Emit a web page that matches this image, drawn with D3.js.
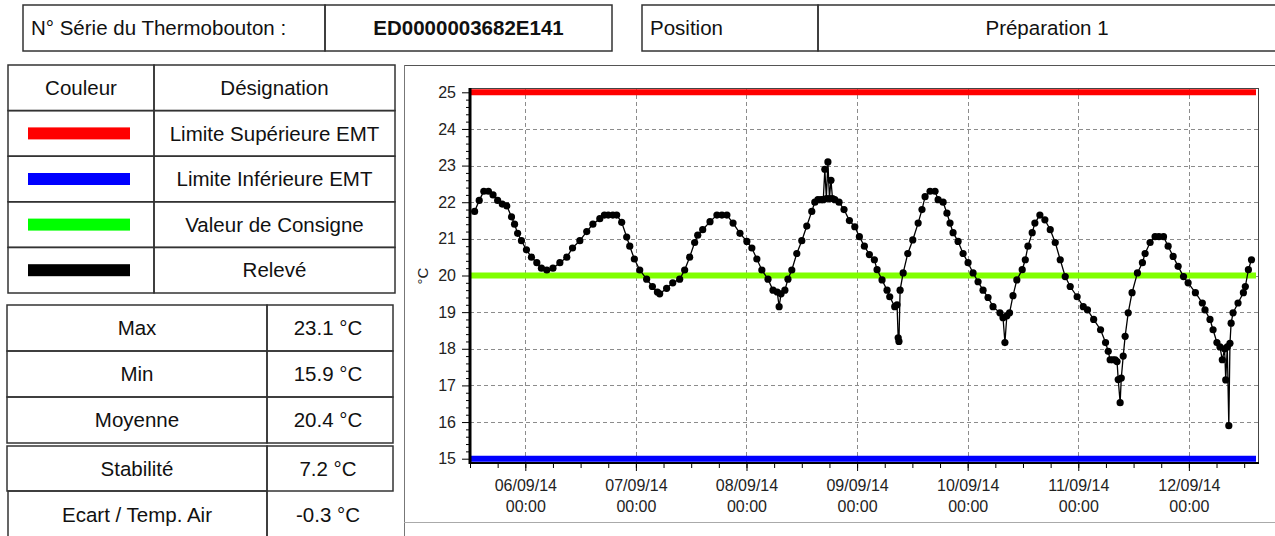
<!DOCTYPE html>
<meta charset="utf-8">
<style>
body { margin: 0; background: #fff; }
svg { font-family: Arial, "Liberation Sans", sans-serif; }
.cell { fill: none; stroke: #333; stroke-width: 1.5; }
.tbl text { font-size: 20.5px; fill: #111; }
.grid line { stroke: #8c8c8c; stroke-width: 1; stroke-dasharray: 4,3; shape-rendering: crispEdges; }
.axis text { font-size: 16px; fill: #222; }
.axis line { stroke: #000; }
.axis path { display: none; }
</style>
<body>
<script src="https://cdn.jsdelivr.net/npm/d3@7"></script>
<script>
// header / tables
var serialLabel = "N° Série du Thermobouton :",
    serialValue = "ED0000003682E141",
    positionLabel = "Position",
    positionValue = "Préparation 1";

var legendHead = ["Couleur", "Désignation"];
var legendColors = ["#ff0000", "#0000ff", "#00ff00", "#000000"];
var legendLabels = ["Limite Supérieure EMT", "Limite Inférieure EMT", "Valeur de Consigne", "Relevé"];

var statLabels = ["Max", "Min", "Moyenne", "Stabilité", "Ecart / Temp. Air"];
var statValues = ["23.1 °C", "15.9 °C", "20.4 °C", "7.2 °C", "-0.3 °C"];

// chart values
var upperLimit = 25, lowerLimit = 15, setPoint = 20;
var yTicks = [15, 16, 17, 18, 19, 20, 21, 22, 23, 24, 25];
var timeStart = "05/09/14 12:00", timeEnd = "12/09/14 15:00";

var releve = [
  ["05/09/14 13:00", 21.75], ["05/09/14 14:00", 22.05], ["05/09/14 15:00", 22.3], ["05/09/14 16:00", 22.3],
  ["05/09/14 17:00", 22.2], ["05/09/14 18:00", 22.05], ["05/09/14 19:00", 21.95], ["05/09/14 20:00", 21.9],
  ["05/09/14 21:00", 21.6], ["05/09/14 21:40", 21.4], ["05/09/14 22:20", 21.15], ["05/09/14 23:10", 20.95],
  ["06/09/14 00:15", 20.7], ["06/09/14 01:20", 20.5], ["06/09/14 02:30", 20.35], ["06/09/14 03:30", 20.2],
  ["06/09/14 04:40", 20.15], ["06/09/14 06:00", 20.2], ["06/09/14 07:30", 20.35], ["06/09/14 09:00", 20.5],
  ["06/09/14 10:15", 20.75], ["06/09/14 11:50", 20.95], ["06/09/14 13:20", 21.2], ["06/09/14 14:40", 21.4],
  ["06/09/14 16:10", 21.55], ["06/09/14 17:10", 21.65], ["06/09/14 18:00", 21.65], ["06/09/14 19:00", 21.65],
  ["06/09/14 19:50", 21.65], ["06/09/14 20:55", 21.45], ["06/09/14 22:00", 21.05], ["06/09/14 22:40", 20.8],
  ["06/09/14 23:40", 20.45], ["07/09/14 00:50", 20.15], ["07/09/14 02:20", 19.9], ["07/09/14 03:35", 19.7],
  ["07/09/14 04:40", 19.55], ["07/09/14 05:10", 19.5], ["07/09/14 06:40", 19.65], ["07/09/14 08:00", 19.8],
  ["07/09/14 09:30", 19.9], ["07/09/14 10:35", 20.15], ["07/09/14 11:40", 20.5], ["07/09/14 12:45", 20.9],
  ["07/09/14 13:25", 21.1], ["07/09/14 14:30", 21.25], ["07/09/14 16:05", 21.47], ["07/09/14 17:35", 21.65],
  ["07/09/14 18:40", 21.65], ["07/09/14 19:45", 21.65], ["07/09/14 21:05", 21.43], ["07/09/14 22:35", 21.15],
  ["08/09/14 00:05", 20.93], ["08/09/14 01:10", 20.75], ["08/09/14 02:15", 20.45], ["08/09/14 03:20", 20.15],
  ["08/09/14 04:40", 19.9], ["08/09/14 05:45", 19.6], ["08/09/14 06:40", 19.55], ["08/09/14 07:05", 19.15],
  ["08/09/14 07:30", 19.5], ["08/09/14 08:20", 19.6], ["08/09/14 09:00", 19.9], ["08/09/14 09:50", 20.15],
  ["08/09/14 10:55", 20.6], ["08/09/14 12:00", 20.95], ["08/09/14 13:05", 21.35], ["08/09/14 14:10", 21.75],
  ["08/09/14 14:50", 22.0], ["08/09/14 15:30", 22.07], ["08/09/14 16:10", 22.07], ["08/09/14 16:40", 22.07],
  ["08/09/14 17:00", 22.9], ["08/09/14 17:20", 22.1], ["08/09/14 17:40", 23.1], ["08/09/14 18:00", 22.1],
  ["08/09/14 18:20", 22.6], ["08/09/14 18:40", 22.1], ["08/09/14 19:10", 22.07], ["08/09/14 20:05", 22.0],
  ["08/09/14 21:10", 21.8], ["08/09/14 22:20", 21.5], ["08/09/14 23:30", 21.33], ["09/09/14 00:30", 21.06],
  ["09/09/14 01:35", 20.8], ["09/09/14 02:40", 20.57], ["09/09/14 03:45", 20.43], ["09/09/14 04:20", 20.16],
  ["09/09/14 05:25", 19.88], ["09/09/14 06:30", 19.6], ["09/09/14 07:05", 19.42], ["09/09/14 08:10", 19.15],
  ["09/09/14 08:40", 19.2], ["09/09/14 08:55", 18.3], ["09/09/14 09:05", 18.2], ["09/09/14 09:20", 19.6],
  ["09/09/14 10:00", 20.07], ["09/09/14 11:00", 20.6], ["09/09/14 12:05", 20.97], ["09/09/14 13:15", 21.43],
  ["09/09/14 14:05", 21.8], ["09/09/14 14:45", 22.15], ["09/09/14 15:50", 22.3], ["09/09/14 16:55", 22.3],
  ["09/09/14 17:35", 22.07], ["09/09/14 18:40", 22.0], ["09/09/14 19:30", 21.7], ["09/09/14 20:10", 21.43],
  ["09/09/14 20:50", 21.17], ["09/09/14 21:55", 20.93], ["09/09/14 23:00", 20.6], ["10/09/14 00:05", 20.35],
  ["10/09/14 01:10", 20.07], ["10/09/14 02:15", 19.83], ["10/09/14 03:20", 19.6], ["10/09/14 04:25", 19.4],
  ["10/09/14 05:30", 19.15], ["10/09/14 07:00", 18.98], ["10/09/14 07:40", 18.85], ["10/09/14 08:05", 18.17],
  ["10/09/14 08:30", 18.9], ["10/09/14 09:05", 18.98], ["10/09/14 09:50", 19.45], ["10/09/14 10:40", 19.88],
  ["10/09/14 11:50", 20.16], ["10/09/14 12:30", 20.43], ["10/09/14 13:05", 20.8], ["10/09/14 14:00", 21.17],
  ["10/09/14 14:35", 21.43], ["10/09/14 15:40", 21.65], ["10/09/14 16:45", 21.52], ["10/09/14 17:55", 21.25],
  ["10/09/14 19:00", 20.9], ["10/09/14 20:05", 20.43], ["10/09/14 21:10", 19.97], ["10/09/14 22:15", 19.7],
  ["10/09/14 23:45", 19.42], ["11/09/14 01:05", 19.15], ["11/09/14 02:00", 19.06], ["11/09/14 03:20", 18.8],
  ["11/09/14 04:50", 18.52], ["11/09/14 05:55", 18.17], ["11/09/14 06:30", 17.93], ["11/09/14 06:55", 17.7],
  ["11/09/14 07:30", 17.7], ["11/09/14 08:00", 17.7], ["11/09/14 08:25", 17.65], ["11/09/14 08:40", 17.16],
  ["11/09/14 09:05", 16.53], ["11/09/14 09:20", 17.2], ["11/09/14 09:45", 17.8], ["11/09/14 10:10", 18.34],
  ["11/09/14 10:50", 18.98], ["11/09/14 11:40", 19.53], ["11/09/14 12:50", 20.07], ["11/09/14 13:55", 20.35],
  ["11/09/14 14:30", 20.6], ["11/09/14 15:35", 20.9], ["11/09/14 16:40", 21.06], ["11/09/14 17:30", 21.06],
  ["11/09/14 18:30", 21.06], ["11/09/14 19:30", 20.8], ["11/09/14 20:35", 20.52], ["11/09/14 21:40", 20.25],
  ["11/09/14 22:50", 19.97], ["11/09/14 23:50", 19.8], ["12/09/14 01:25", 19.53], ["12/09/14 02:55", 19.25],
  ["12/09/14 03:30", 19.06], ["12/09/14 04:35", 18.8], ["12/09/14 05:15", 18.52], ["12/09/14 06:05", 18.17],
  ["12/09/14 06:45", 18.05], ["12/09/14 07:15", 17.7], ["12/09/14 07:45", 18.0], ["12/09/14 08:00", 17.15],
  ["12/09/14 08:20", 18.05], ["12/09/14 08:40", 15.9], ["12/09/14 08:55", 18.15], ["12/09/14 09:10", 18.7],
  ["12/09/14 09:35", 18.98], ["12/09/14 10:40", 19.25], ["12/09/14 11:50", 19.53], ["12/09/14 12:15", 19.7],
  ["12/09/14 12:55", 20.16], ["12/09/14 13:35", 20.43]
];

var parseTime = d3.timeParse("%d/%m/%y %H:%M");
var data = releve.map(function(d) { return { t: parseTime(d[0]), v: d[1] }; });

var svg = d3.select("body").append("svg")
    .attr("width", 1275)
    .attr("height", 536);

function centerText(g, x, y, txt, bold) {
  return g.append("text")
      .attr("x", x).attr("y", y).attr("dy", "0.35em")
      .attr("text-anchor", "middle")
      .attr("font-weight", bold ? "bold" : null)
      .text(txt);
}

//------------------------------------------------------------ header
var head = svg.append("g").attr("class", "tbl");
head.append("rect").attr("class", "cell").attr("x", 23).attr("y", 5).attr("width", 302).attr("height", 46);
head.append("rect").attr("class", "cell").attr("x", 325).attr("y", 5).attr("width", 287).attr("height", 46);
head.append("rect").attr("class", "cell").attr("x", 642).attr("y", 5).attr("width", 176).attr("height", 46);
head.append("rect").attr("class", "cell").attr("x", 818).attr("y", 5).attr("width", 460).attr("height", 46);
head.append("text").attr("x", 31).attr("y", 28).attr("dy", "0.35em").text(serialLabel);
centerText(head, 468.5, 28, serialValue, true);
head.append("text").attr("x", 650).attr("y", 28).attr("dy", "0.35em").text(positionLabel);
centerText(head, 1047, 28, positionValue);

//------------------------------------------------------------ legend table
var leg = svg.append("g").attr("class", "tbl");
var legTop = 65, legRowH = 45.6, legX = [8, 154, 395];
var legRows = [legendHead].concat(legendLabels.map(function(l, i) { return [legendColors[i], l]; }));
legRows.forEach(function(row, i) {
  var y0 = legTop + i * legRowH;
  leg.append("rect").attr("class", "cell").attr("x", legX[0]).attr("y", y0)
      .attr("width", legX[1] - legX[0]).attr("height", legRowH);
  leg.append("rect").attr("class", "cell").attr("x", legX[1]).attr("y", y0)
      .attr("width", legX[2] - legX[1]).attr("height", legRowH);
  if (i === 0) {
    centerText(leg, (legX[0] + legX[1]) / 2, y0 + legRowH / 2, row[0]);
  } else {
    leg.append("rect").attr("x", 28).attr("y", y0 + legRowH / 2 - 6)
        .attr("width", 102).attr("height", 12).attr("fill", row[0]);
  }
  centerText(leg, (legX[1] + legX[2]) / 2, y0 + legRowH / 2, row[1]);
});

//------------------------------------------------------------ stats tables
var st = svg.append("g").attr("class", "tbl");
var statRowsY = [305, 351, 397, 446, 491], statRowH = [46, 46, 46, 45, 47];
statLabels.forEach(function(l, i) {
  var y0 = statRowsY[i], h = statRowH[i], x0 = (i === 4) ? 8 : 7;
  st.append("rect").attr("class", "cell").attr("x", x0).attr("y", y0).attr("width", 267 - x0).attr("height", h);
  if (i < 4) st.append("rect").attr("class", "cell").attr("x", 267).attr("y", y0).attr("width", 126).attr("height", h);
  centerText(st, 137, y0 + h / 2, l);
  centerText(st, 328, y0 + h / 2, statValues[i]);
});
// last row has only the left and top of its value cell
st.append("line").attr("x1", 267).attr("x2", 267).attr("y1", 491).attr("y2", 536).attr("stroke", "#333").attr("stroke-width", 1.5);

//------------------------------------------------------------ chart panel
var panel = svg.append("g");
panel.append("line").attr("x1", 404).attr("x2", 1275).attr("y1", 65.5).attr("y2", 65.5).attr("stroke", "#555");
panel.append("line").attr("x1", 404.5).attr("x2", 404.5).attr("y1", 65).attr("y2", 536).attr("stroke", "#777");
panel.append("line").attr("x1", 404).attr("x2", 1275).attr("y1", 522.5).attr("y2", 522.5).attr("stroke", "#aaa");

var plot = { left: 470, right: 1258, top: 88, bottom: 463 };

var x = d3.scaleTime()
    .domain([parseTime(timeStart), parseTime(timeEnd)])
    .range([plot.left, plot.right]);
var y = d3.scaleLinear()
    .domain([lowerLimit, upperLimit])
    .range([458.7, 92.3]);

var g = svg.append("g");

// grid
var days = x.ticks(d3.timeDay.every(1));
g.append("g").attr("class", "grid").selectAll("line")
    .data(yTicks.slice(1, -1))
  .enter().append("line")
    .attr("x1", plot.left).attr("x2", plot.right)
    .attr("y1", function(d) { return Math.round(y(d)) + 0.5; })
    .attr("y2", function(d) { return Math.round(y(d)) + 0.5; });
g.append("g").attr("class", "grid").selectAll("line")
    .data(days)
  .enter().append("line")
    .attr("y1", plot.top).attr("y2", plot.bottom)
    .attr("x1", function(d) { return Math.round(x(d)) + 0.5; })
    .attr("x2", function(d) { return Math.round(x(d)) + 0.5; });

// limit lines
var limits = [
  { v: upperLimit, c: "#ff0000" },
  { v: lowerLimit, c: "#0000ff" },
  { v: setPoint, c: "#80ff00" }
];
g.selectAll(".limit")
    .data(limits)
  .enter().append("line")
    .attr("class", "limit")
    .attr("x1", x(parseTime(timeStart)))
    .attr("x2", x(parseTime(timeEnd)) - 2)
    .attr("y1", function(d) { return y(d.v); })
    .attr("y2", function(d) { return y(d.v); })
    .attr("stroke", function(d) { return d.c; })
    .attr("stroke-width", 6);

// readings
var line = d3.line()
    .x(function(d) { return x(d.t); })
    .y(function(d) { return y(d.v); });
g.append("path")
    .datum(data)
    .attr("d", line)
    .attr("fill", "none")
    .attr("stroke", "#000")
    .attr("stroke-width", 1.3);
g.selectAll(".dot")
    .data(data)
  .enter().append("circle")
    .attr("class", "dot")
    .attr("cx", function(d) { return x(d.t); })
    .attr("cy", function(d) { return y(d.v); })
    .attr("r", 3.6)
    .attr("fill", "#000");

// frame
g.append("line").attr("x1", plot.left).attr("x2", plot.right).attr("y1", plot.top + 0.5).attr("y2", plot.top + 0.5).attr("stroke", "#444");
g.append("line").attr("x1", plot.right + 0.5).attr("x2", plot.right + 0.5).attr("y1", plot.top).attr("y2", plot.bottom).attr("stroke", "#444");

// y axis
var minorY = d3.range(lowerLimit * 5, upperLimit * 5 + 1).map(function(d) { return d / 5; })
    .filter(function(d) { return yTicks.indexOf(d) < 0; });
g.append("g").attr("class", "axis")
    .attr("transform", "translate(" + plot.left + ",0)")
    .call(d3.axisLeft(y).tickValues(minorY).tickSize(4).tickFormat(""));
g.append("g").attr("class", "axis")
    .attr("transform", "translate(" + plot.left + ",0)")
    .call(d3.axisLeft(y).tickValues(yTicks).tickSize(8).tickPadding(6).tickFormat(d3.format("d")));
g.append("line").attr("x1", plot.left).attr("x2", plot.left).attr("y1", plot.top).attr("y2", plot.bottom + 1)
    .attr("stroke", "#000").attr("stroke-width", 3);

// x axis
g.append("g").attr("class", "axis")
    .attr("transform", "translate(0," + plot.bottom + ")")
    .call(d3.axisBottom(x).ticks(d3.timeHour.every(6)).tickSize(5).tickFormat(""));
var xAxis = g.append("g").attr("class", "axis")
    .attr("transform", "translate(0," + plot.bottom + ")")
    .call(d3.axisBottom(x).tickValues(days).tickSize(8).tickFormat(""));
xAxis.selectAll(".tick").append("text")
    .attr("text-anchor", "middle")
    .attr("fill", "#333")
    .each(function(d) {
      var t = d3.select(this);
      t.append("tspan").attr("x", 0).attr("y", 28).text(d3.timeFormat("%d/%m/%y")(d));
      t.append("tspan").attr("x", 0).attr("y", 49).text(d3.timeFormat("%H:%M")(d));
    });
g.append("line").attr("x1", plot.left).attr("x2", plot.right + 1).attr("y1", plot.bottom).attr("y2", plot.bottom)
    .attr("stroke", "#000").attr("stroke-width", 2);

// y label
g.append("text")
    .attr("transform", "translate(423,276) rotate(-90)")
    .attr("text-anchor", "middle")
    .attr("dy", "0.35em")
    .style("font-size", "15px")
    .attr("fill", "#222")
    .text("°C");
</script>
</body>
